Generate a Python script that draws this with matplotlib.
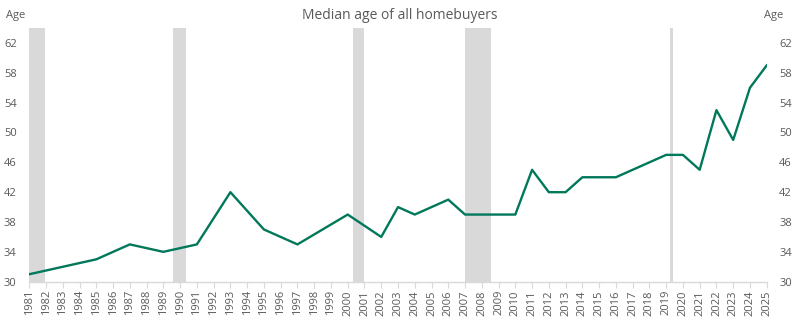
import matplotlib
matplotlib.use("Agg")
import matplotlib.pyplot as plt

years = [1981, 1985, 1987, 1989, 1991, 1993, 1995, 1997, 2000, 2002, 2003, 2004,
         2006, 2007, 2008, 2009, 2010, 2011, 2012, 2013, 2014, 2015, 2016, 2019,
         2020, 2021, 2022, 2023, 2024, 2025]
ages = [31, 33, 35, 34, 35, 42, 37, 35, 39, 36, 40, 39,
        41, 39, 39, 39, 39, 45, 42, 42, 44, 44, 44, 47,
        47, 45, 53, 49, 56, 59]
recession_starts = [1981.0, 1989.6, 2000.3, 2007.0, 2019.2]
recession_ends = [1981.95, 1990.37, 2001.0, 2008.55, 2019.4]
tick_years = list(range(1981, 2026))
y_ticks = [30, 34, 38, 42, 46, 50, 54, 58, 62]

plt.rcParams['font.family'] = ['Open Sans', 'DejaVu Sans']
grey = '#595959'

fig = plt.figure(figsize=(8, 3.34), dpi=100)
ax = fig.add_axes([0.0366, 0.1566, 0.9218, 0.7594])

for s, e in zip(recession_starts, recession_ends):
    ax.axvspan(s, e, color='#D9D9D9', lw=0, zorder=0)

ax.plot(years, ages, color='#00785A', lw=1.7, zorder=3)

ax.set_xlim(1981, 2025)
ax.set_ylim(30, 64)
ax.set_xticks(tick_years)
ax.set_xticklabels([str(y) for y in tick_years], rotation=90, fontsize=8, color=grey)
ax.set_yticks(y_ticks)
ax.set_yticklabels([str(v) for v in y_ticks], fontsize=8, color=grey)
ax.tick_params(axis='x', length=4, color='#D9D9D9', pad=2)
ax.tick_params(axis='y', length=0, pad=9, labelleft=True, labelright=True)

for side in ['top', 'left', 'right']:
    ax.spines[side].set_visible(False)
ax.spines['bottom'].set_color('#D9D9D9')
ax.spines['bottom'].set_linewidth(1)

fig.text(0.5, 0.955, 'Median age of all homebuyers', ha='center', va='center',
         fontsize=10, color=grey)
fig.text(0.007, 0.955, 'Age', ha='left', va='center', fontsize=8, color=grey)
fig.text(0.955, 0.955, 'Age', ha='left', va='center', fontsize=8, color=grey)

fig.savefig('out.png', dpi=100)
